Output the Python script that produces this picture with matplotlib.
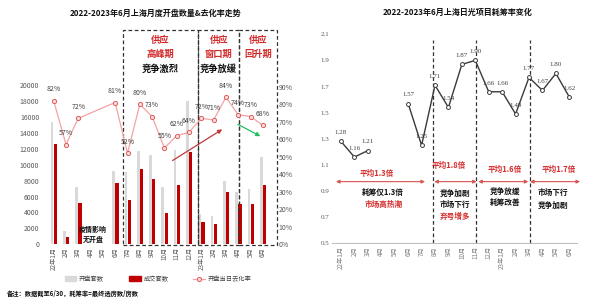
import matplotlib
matplotlib.use("Agg")
import matplotlib.pyplot as plt
import numpy as np
from matplotlib.patches import Rectangle
from matplotlib.lines import Line2D
from matplotlib.patches import Patch
import matplotlib.transforms as mtransforms

plt.rcParams['font.family'] = ['Noto Sans CJK SC', 'DejaVu Sans']

months = ["22年1月", "2月", "3月", "4月", "5月", "6月", "7月", "8月", "9月", "10月",
          "11月", "12月", "23年1月", "2月", "3月", "4月", "5月", "6月"]
open_units = [15300, 1700, 7250, 0, 0, 9250, 9050, 11750, 11250, 7150,
              11900, 18000, 3850, 3550, 8000, 6600, 6950, 11000]
sold_units = [12650, 950, 5200, 0, 0, 7700, 5600, 9400, 8200, 3900,
              7400, 11550, 2800, 2600, 6600, 5100, 5100, 7500]
sell_rate = [0.82, 0.57, 0.72, None, None, 0.81, 0.52, 0.80, 0.73, 0.55,
             0.62, 0.64, 0.72, 0.71, 0.84, 0.74, 0.73, 0.68]
ratio = [1.28, 1.16, 1.21, None, None, 1.57, 1.25, 1.71, 1.54, 1.87,
         1.90, 1.66, 1.66, 1.49, 1.77, 1.67, 1.80, 1.62]

RED = "#c00000"
TXTRED = "#d42a2a"
GRAY = "#d9d9d9"
TICK = "#595959"

fig = plt.figure(figsize=(6, 3), dpi=100)
fig.patch.set_facecolor("white")

# ---------------- Left chart ----------------
ax1 = fig.add_axes([42/600, 1-244.3/300, 235/600, (244.3-85)/300])
x = np.arange(len(months))
ax1.bar(x-0.13, open_units, width=0.22, color=GRAY, zorder=2)
ax1.bar(x+0.14, sold_units, width=0.26, color=RED, zorder=2)
ax1.set_xlim(-0.95, 18.15)
ax1.set_ylim(0, 20000)
ax1.set_yticks(np.arange(0, 20001, 2000))
ax1.set_yticklabels([str(v) for v in range(0, 20001, 2000)], fontsize=5, color=TICK)
ax1.set_xticks(x)
ax1.set_xticklabels(months, rotation=90, fontsize=4.5, color=TICK)
ax1.tick_params(length=0, pad=2)
for s in ax1.spines.values():
    s.set_visible(False)

ax2 = ax1.twinx()
xs = [i for i, v in enumerate(sell_rate) if v is not None]
ys = [v for v in sell_rate if v is not None]
ax2.plot(xs, ys, color="#f4a3a3", lw=0.9, marker="o", ms=3,
         mfc="#fbe0e0", mec="#e05a5a", mew=0.7, zorder=3)
for xi, yi in zip(xs, ys):
    ax2.annotate(f"{int(round(yi*100))}%", (xi, yi), xytext=(0, 5.5),
                 textcoords="offset points", ha="center", va="bottom",
                 fontsize=5, color="#404040", style="italic")
ax2.set_ylim(0, 0.91)
ax2.set_yticks(np.arange(0, 0.91, 0.1))
ax2.set_yticklabels([f"{int(round(v*100))}%" for v in np.arange(0, 0.91, 0.1)],
                    fontsize=5, color=TICK)
ax2.tick_params(length=0, pad=1)
for s in ax2.spines.values():
    s.set_visible(False)

# dashed boxes
trans = mtransforms.blended_transform_factory(ax1.transData, ax1.transAxes)
box_edges = [5.63, 11.72, 15.1, 18.15]
for a, b in zip(box_edges[:-1], box_edges[1:]):
    r = Rectangle((a, -0.005), b-a, 1.35, transform=trans, fill=False,
                  ls=(0, (3, 2)), lw=0.9, ec="#333333", clip_on=False, zorder=5)
    ax1.add_patch(r)

box_texts = [
    ((5.63+11.72)/2, [("供应", TXTRED), ("高峰期", TXTRED), ("竞争激烈", "#111111")]),
    ((11.72+15.1)/2, [("供应", TXTRED), ("窗口期", TXTRED), ("竞争放缓", "#111111")]),
    ((15.1+18.15)/2, [("供应", TXTRED), ("回升期", TXTRED)]),
]
ys_box = [1.283, 1.195, 1.101]
for cx, items in box_texts:
    for (t, c), yy in zip(items, ys_box):
        ax1.text(cx, yy, t, transform=trans, ha="center", va="center",
                 fontsize=6.7, fontweight="bold", color=c, clip_on=False)

ax1.text(3.2, 0.096, "疫情影响", transform=trans, ha="center", va="center",
         fontsize=5, fontweight="bold", color="#111111")
ax1.text(3.2, 0.031, "无开盘", transform=trans, ha="center", va="center",
         fontsize=5, fontweight="bold", color="#111111")

# trend arrows on rate axis
ax2.annotate("", xy=(13.89, 0.665), xytext=(9.47, 0.47),
             arrowprops=dict(arrowstyle="-|>", color="#c0393b", lw=0.9,
                             mutation_scale=6))
ax2.annotate("", xy=(17.0, 0.61), xytext=(14.76, 0.693),
             arrowprops=dict(arrowstyle="-|>", color="#1fbf5f", lw=0.9,
                             mutation_scale=6))

# legend
handles = [Patch(color=GRAY), Patch(color=RED),
           Line2D([0], [0], color="#f4a3a3", lw=0.9, marker="o", ms=3,
                  mfc="#fbe0e0", mec="#e05a5a", mew=0.7)]
fig.legend(handles, ["开盘套数", "成交套数", "开盘当日去化率"], loc="center",
           bbox_to_anchor=(158/600, 1-279/300), ncol=3, frameon=False,
           fontsize=4.5, handlelength=1.9, handleheight=0.8, columnspacing=4.0,
           handletextpad=0.4, labelcolor="#404040")

fig.text(7/600, 1-293/300, "备注：数据截至6/30，耗筹率=最终选房数/房数",
         fontsize=4.5, fontweight="bold", color="#111111", va="center")

fig.text(156/600, 1-13/300, "2022-2023年6月上海月度开盘数量&去化率走势",
         ha="center", va="center", fontsize=5.8, fontweight="bold", color="#111111")

# ---------------- Right chart ----------------
ax3 = fig.add_axes([332/600, 1-243.3/300, 244.7/600, (243.3-34.3)/300])
rx = np.arange(len(months))
ry = np.array([np.nan if v is None else v for v in ratio], dtype=float)
ax3.plot(rx, ry, color="#3a3a3a", lw=1.0, marker="o", ms=2.8,
         mfc="white", mec="#3a3a3a", mew=0.7, zorder=3)
for xi, yi in zip(rx, ratio):
    if yi is None:
        continue
    ax3.annotate(f"{yi:.2f}", (xi, yi), xytext=(0, 4.5), textcoords="offset points",
                 ha="center", va="bottom", fontsize=5, color="#404040",
                 family="Liberation Serif")
ax3.set_xlim(-0.67, 17.55)
ax3.set_ylim(0.5, 2.1)
yt = np.arange(0.5, 2.11, 0.2)
ax3.set_yticks(yt)
ax3.set_yticklabels([f"{v:.1f}" for v in yt], fontsize=5, color=TICK,
                    family="Liberation Serif")
ax3.set_xticks(rx)
ax3.set_xticklabels(months, rotation=90, fontsize=4.5, color="#7f7f7f")
ax3.tick_params(length=0, pad=2)
for k, s in ax3.spines.items():
    s.set_visible(k == "bottom")
ax3.spines["bottom"].set_color("#bfbfbf")
ax3.spines["bottom"].set_linewidth(0.8)

for vx in [6.83, 10.05, 14.05]:
    ax3.plot([vx, vx], [0.5, 2.06], ls=(0, (3, 2)), color="#333333", lw=0.9,
             clip_on=False, zorder=2)

def px2x(p):
    return (p - 341) / 13.43

def py2y(p):
    return 0.5 + (243.3 - p) / 130.5

arrow_y = py2y(181.7)
spans = [(336, 425), (434.3, 476.7), (478.3, 528.3), (530, 580)]
for a, b in spans:
    ax3.annotate("", xy=(px2x(b), arrow_y), xytext=(px2x(a), arrow_y),
                 arrowprops=dict(arrowstyle="<|-|>", color="#d9534f", lw=0.8,
                                 mutation_scale=5, shrinkA=0, shrinkB=0),
                 annotation_clip=False)

avg_texts = [("平均1.3倍", 376.7, 173.3), ("平均1.8倍", 448.3, 166),
             ("平均1.6倍", 505, 169.3), ("平均1.7倍", 558.3, 169.3)]
for t, px, py in avg_texts:
    ax3.text(px2x(px), py2y(py), t, ha="center", va="center", fontsize=5.5,
             color=TXTRED, fontweight="bold")

notes = [
    (383.3, [("耗筹仅1.3倍", "#111111", 192.7), ("市场高热潮", TXTRED, 204)]),
    (455, [("竞争加剧", "#111111", 193.3), ("市场下行", "#111111", 205), ("弃号增多", TXTRED, 216.7)]),
    (505, [("竞争放缓", "#111111", 191.7), ("耗筹改善", "#111111", 202.7)]),
    (552.7, [("市场下行", "#111111", 192.7), ("竞争加剧", "#111111", 205)]),
]
for px, items in notes:
    for t, c, py in items:
        ax3.text(px2x(px), py2y(py), t, ha="center", va="center", fontsize=5.5,
                 color=c, fontweight="bold")

fig.text(457.5/600, 1-12/300, "2022-2023年6月上海日光项目耗筹率变化",
         ha="center", va="center", fontsize=5.8, fontweight="bold", color="#111111")

fig.savefig("out.png", dpi=100, facecolor="white")
